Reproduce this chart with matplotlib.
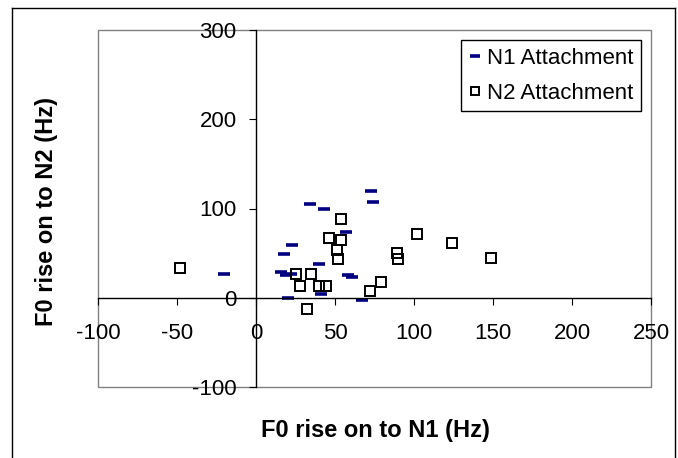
# Scatter of F0 rise on to N1 vs N2, Excel-style axes crossing at origin

import matplotlib.pyplot as plt
from matplotlib.patches import Rectangle
from matplotlib.lines import Line2D

plt.rcParams['font.family'] = ['Liberation Sans', 'DejaVu Sans']
plt.rcParams['axes.unicode_minus'] = False

# N1 Attachment (dash markers)
n1_x = [-20, 18, 23, 16, 19, 20, 34, 43, 40, 41, 73, 74, 57, 58, 61, 67, 22]
n1_y = [27, 49, 59, 29, 26, 0, 105, 99, 38, 4, 120, 107, 74, 25, 23, -2, 27]

# N2 Attachment (open squares)
n2_x = [-48, 25, 28, 35, 32, 40, 44, 46, 54, 54, 51, 52, 72, 79, 89, 90, 102, 124, 149]
n2_y = [33, 27, 13, 27, -13, 13, 13, 67, 88, 65, 54, 43, 8, 18, 50, 43, 71, 61, 44]

x_ticks = [-100, -50, 0, 50, 100, 150, 200, 250]
y_ticks = [-100, 0, 100, 200, 300]

W, H = 678, 458
fig = plt.figure(figsize=(W / 100, H / 100), dpi=100)
ax = fig.add_axes([98 / W, 1 - 387 / H, 553 / W, 357 / H])

ax.plot(n1_x, n1_y, linestyle='none', marker='_', markersize=9,
        markeredgewidth=2.6, color='#000080', label='N1 Attachment')
ax.plot(n2_x, n2_y, linestyle='none', marker='s', markersize=7,
        markerfacecolor='none', markeredgecolor='black', markeredgewidth=1.4,
        label='N2 Attachment')

ax.set_xlim(-100, 250)
ax.set_ylim(-100, 300)
ax.set_xticks(x_ticks)
ax.set_yticks(y_ticks)

# axes through the origin
ax.spines['left'].set_position(('data', 0))
ax.spines['bottom'].set_position(('data', 0))
ax.spines['top'].set_visible(False)
ax.spines['right'].set_visible(False)
for s in ['left', 'bottom']:
    ax.spines[s].set_linewidth(1)
    ax.spines[s].set_color('black')

ax.tick_params(axis='x', direction='out', length=5, pad=13, labelsize=16)
ax.tick_params(axis='y', direction='out', length=5, pad=9, labelsize=16)

# plot area border
ax.add_patch(Rectangle((0, 0), 1, 1, transform=ax.transAxes, fill=False,
                       edgecolor='#808080', linewidth=1, clip_on=False))

leg = ax.legend(loc='upper right', bbox_to_anchor=(641 / W, 1 - 40 / H),
                bbox_transform=fig.transFigure, fontsize=16, fancybox=False,
                framealpha=1, edgecolor='black', handlelength=0.5,
                handletextpad=0.3, borderpad=0.35, labelspacing=0.62,
                borderaxespad=0, markerscale=0.8)
leg.get_frame().set_linewidth(1)

fig.text(375 / W, 1 - 430 / H, 'F0 rise on to N1 (Hz)', ha='center',
         va='center', fontsize=17, fontweight='bold')
fig.text(47 / W, 1 - 211 / H, 'F0 rise on to N2 (Hz)', ha='center',
         va='center', rotation=90, fontsize=17, fontweight='bold')

# outer chart frame
for xs, ys in [([12, 12], [H, 8]), ([12, 675], [8, 8]), ([675, 675], [8, H])]:
    fig.add_artist(Line2D([x / W for x in xs], [1 - y / H for y in ys],
                          color='black', linewidth=1))

fig.savefig('out.png', dpi=100)
